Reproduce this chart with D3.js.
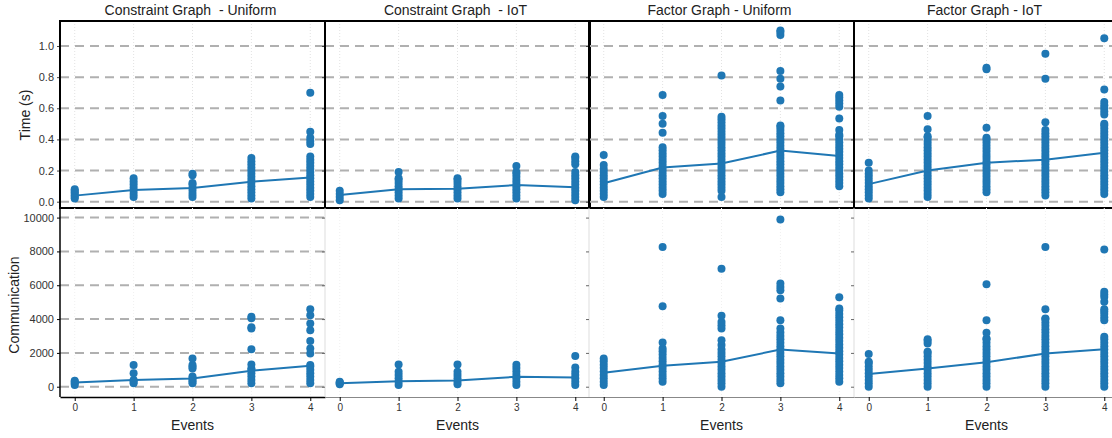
<!DOCTYPE html>
<html>
<head>
<meta charset="utf-8">
<script src="https://cdn.jsdelivr.net/npm/d3@7"></script>
<style>
  html, body { margin: 0; padding: 0; background: #fff; }
  svg { display: block; font-family: "Liberation Sans", Arial, sans-serif; }
</style>
</head>
<body>
<script>
// ---------------- DATA ----------------
const events = [0, 1, 2, 3, 4];
const facetTitles = ["Constraint Graph  - Uniform", "Constraint Graph  - IoT", "Factor Graph - Uniform", "Factor Graph - IoT"];
const timeTicks = [0.0, 0.2, 0.4, 0.6, 0.8, 1.0];
const commTicks = [0, 2000, 4000, 6000, 8000, 10000];

// Time (s) per event count, one array per facet
const timeCGUniform = [
  [0.02,0.03,0.04,0.05,0.06,0.07,0.08],
  [0.03,0.05,0.07,0.09,0.11,0.13,0.15],
  [0.03,0.05,0.07,0.09,0.11,0.12,0.17,0.18],
  [0.02,0.04,0.06,0.08,0.10,0.12,0.14,0.16,0.18,0.20,0.22,0.24,0.26,0.28],
  [0.03,0.05,0.07,0.09,0.11,0.13,0.15,0.17,0.19,0.21,0.23,0.25,0.27,0.29,0.37,0.39,0.41,0.45,0.70]
];
const timeCGIoT = [
  [0.01,0.03,0.05,0.07],
  [0.02,0.04,0.06,0.08,0.10,0.12,0.14,0.15,0.19],
  [0.02,0.04,0.06,0.08,0.10,0.12,0.14,0.15],
  [0.02,0.04,0.06,0.08,0.10,0.12,0.14,0.16,0.18,0.19,0.23],
  [0.01,0.03,0.05,0.07,0.09,0.11,0.13,0.15,0.17,0.19,0.24,0.26,0.28,0.29]
];
const timeFGUniform = [
  [0.03,0.05,0.07,0.09,0.11,0.13,0.15,0.17,0.19,0.21,0.235,0.30],
  [0.05,0.07,0.09,0.11,0.13,0.15,0.17,0.19,0.21,0.23,0.25,0.27,0.29,0.31,0.33,0.35,0.443,0.50,0.55,0.685],
  [0.03,0.07,0.09,0.11,0.13,0.15,0.17,0.19,0.21,0.23,0.25,0.27,0.29,0.31,0.33,0.35,0.37,0.39,0.41,0.43,0.45,0.47,0.49,0.51,0.53,0.546,0.81],
  [0.06,0.08,0.10,0.12,0.14,0.16,0.18,0.20,0.22,0.24,0.26,0.28,0.30,0.32,0.34,0.36,0.38,0.40,0.42,0.44,0.46,0.48,0.49,0.65,0.74,0.79,0.84,1.07,1.09,1.10],
  [0.10,0.12,0.14,0.16,0.18,0.20,0.22,0.24,0.26,0.28,0.30,0.32,0.34,0.36,0.38,0.40,0.42,0.43,0.46,0.535,0.61,0.63,0.65,0.67,0.685]
];
const timeFGIoT = [
  [0.02,0.04,0.06,0.08,0.10,0.12,0.14,0.16,0.18,0.20,0.25],
  [0.03,0.05,0.07,0.09,0.11,0.13,0.15,0.17,0.19,0.21,0.23,0.25,0.27,0.29,0.31,0.33,0.35,0.37,0.39,0.41,0.42,0.465,0.55],
  [0.06,0.08,0.10,0.12,0.14,0.16,0.18,0.20,0.22,0.24,0.26,0.28,0.30,0.32,0.34,0.36,0.38,0.40,0.41,0.475,0.85,0.86],
  [0.04,0.06,0.08,0.10,0.12,0.14,0.16,0.18,0.20,0.22,0.24,0.26,0.28,0.30,0.32,0.34,0.36,0.38,0.40,0.42,0.44,0.46,0.51,0.79,0.95],
  [0.05,0.07,0.09,0.11,0.13,0.15,0.17,0.19,0.21,0.23,0.25,0.27,0.29,0.31,0.33,0.35,0.37,0.39,0.41,0.43,0.45,0.47,0.49,0.50,0.56,0.58,0.60,0.62,0.64,0.72,1.05]
];
const timeMeanCGUniform = [0.039, 0.075, 0.088, 0.128, 0.156];
const timeMeanCGIoT     = [0.043, 0.080, 0.083, 0.107, 0.092];
const timeMeanFGUniform = [0.118, 0.220, 0.246, 0.328, 0.293];
const timeMeanFGIoT     = [0.113, 0.200, 0.250, 0.270, 0.315];

// Communication per event count, one array per facet
const commCGUniform = [
  [100,200,300,350],
  [200,300,400,790,1280],
  [200,300,400,500,600,1080,1180,1280,1670],
  [200,400,600,800,1000,1080,1320,2220,3440,3520,4050,4130],
  [200,400,600,800,1000,1200,1280,1970,2260,2700,3340,3740,4230,4580]
];
const commCGIoT = [
  [150,200,250,300],
  [100,300,500,700,885,1320],
  [150,300,500,700,885,1320],
  [100,300,500,700,900,1100,1300],
  [100,300,500,700,885,1140,1810]
];
const commFGUniform = [
  [100,300,500,700,900,1100,1300,1500,1670],
  [300,500,700,900,1100,1300,1500,1700,1900,2100,2260,2620,4760,8260],
  [0,200,400,600,800,1000,1200,1400,1600,1800,2000,2200,2460,2750,3440,3640,3830,4190,6980],
  [200,400,600,800,1000,1200,1400,1600,1800,2000,2200,2400,2600,2800,3000,3200,3440,3930,5210,5700,5900,6100,9890],
  [300,500,700,900,1100,1300,1500,1700,1900,2100,2300,2500,2700,2900,3100,3300,3500,3700,3900,4100,4300,4500,4620,5290]
];
const commFGIoT = [
  [0,200,400,600,800,1000,1200,1400,1480,1930],
  [0,200,400,600,800,1000,1200,1400,1600,1800,2000,2070,2560,2700,2800],
  [0,200,400,600,800,1000,1200,1400,1600,1800,2000,2200,2400,2600,2800,2850,3190,3930,6060],
  [0,200,400,600,800,1000,1200,1400,1600,1800,2000,2200,2400,2600,2800,3000,3200,3400,3600,3800,4000,4030,4580,8260],
  [0,200,400,600,800,1000,1200,1400,1600,1800,2000,2200,2400,2600,2800,2950,3930,4100,4300,4450,4580,5020,5300,5450,5610,8120]
];
const commMeanCGUniform = [255, 390, 490, 944, 1240];
const commMeanCGIoT     = [200, 330, 370, 590, 550];
const commMeanFGUniform = [826, 1240, 1475, 2200, 1970];
const commMeanFGIoT     = [750, 1080, 1440, 1970, 2220];

const timeSeries = [timeCGUniform, timeCGIoT, timeFGUniform, timeFGIoT];
const timeMeans  = [timeMeanCGUniform, timeMeanCGIoT, timeMeanFGUniform, timeMeanFGIoT];
const commSeries = [commCGUniform, commCGIoT, commFGUniform, commFGIoT];
const commMeans  = [commMeanCGUniform, commMeanCGIoT, commMeanFGUniform, commMeanFGIoT];

// ---------------- LAYOUT ----------------
const W = 1112, H = 438;
const colLeft = [60, 325, 589, 854];
const colW = 265;
const topY0 = 21, topY1 = 208, botY0 = 208, botY1 = 397;
const blue = "#1f77b4";

const svg = d3.select("body").append("svg").attr("width", W).attr("height", H);

const yTop = d3.scaleLinear().domain([-0.0405, 1.1606]).range([topY1, topY0]);
const yBot = d3.scaleLinear().domain([-608, 10567]).range([botY1, botY0]);

function flatten(series) {
  const out = [];
  series.forEach((vals, i) => vals.forEach(v => out.push({ e: events[i], v })));
  return out;
}

facetTitles.forEach((title, c) => {
  const L = colLeft[c];
  const x = d3.scaleLinear().domain([-0.25, 4.25]).range([L, L + colW]);
  const g = svg.append("g");

  // title
  g.append("text").attr("x", L + colW / 2 - 2).attr("y", 15)
    .attr("text-anchor", "middle").attr("font-size", 14).attr("fill", "#222")
    .style("white-space", "pre").text(title);

  // ----- TOP PANEL (Time) -----
  const top = g.append("g");
  top.selectAll("line.vg").data(events).join("line")
    .attr("x1", d => x(d)).attr("x2", d => x(d))
    .attr("y1", topY0).attr("y2", topY1)
    .attr("stroke", "#e2e2e2").attr("stroke-width", 1).attr("stroke-dasharray", "1,2");
  top.selectAll("line.hg").data(timeTicks).join("line")
    .attr("x1", L).attr("x2", L + colW)
    .attr("y1", d => yTop(d)).attr("y2", d => yTop(d))
    .attr("stroke", "#b0b0b0").attr("stroke-width", 2).attr("stroke-dasharray", "9,6");
  top.selectAll("circle").data(flatten(timeSeries[c])).join("circle")
    .attr("cx", d => x(d.e)).attr("cy", d => yTop(d.v)).attr("r", 4).attr("fill", blue);
  top.append("path")
    .datum(events.map((e, i) => ({ e, v: timeMeans[c][i] })))
    .attr("fill", "none").attr("stroke", blue).attr("stroke-width", 2)
    .attr("d", d3.line().x(d => x(d.e)).y(d => yTop(d.v)));

  const axT = top.append("g").attr("transform", `translate(${L},0)`)
    .call(d3.axisLeft(yTop).tickValues(timeTicks).tickSize(3).tickPadding(3)
      .tickFormat(c === 0 ? d3.format(".1f") : () => ""));
  axT.select(".domain").remove();
  axT.selectAll(".tick line").attr("stroke", "#444");
  axT.selectAll(".tick text").attr("font-size", 11).attr("fill", "#333")
    .attr("font-family", "'Liberation Sans', Arial, sans-serif");

  top.append("rect").attr("x", L).attr("y", topY0).attr("width", colW).attr("height", topY1 - topY0)
    .attr("fill", "none").attr("stroke", "#000").attr("stroke-width", 2);

  // ----- BOTTOM PANEL (Communication) -----
  const bot = g.append("g");
  bot.selectAll("line.vg").data(events).join("line")
    .attr("x1", d => x(d)).attr("x2", d => x(d))
    .attr("y1", botY0).attr("y2", botY1)
    .attr("stroke", "#f0f0f0").attr("stroke-width", 1).attr("stroke-dasharray", "1,2");
  if (c === 0) {
    bot.selectAll("line.hg").data(commTicks).join("line")
      .attr("x1", L).attr("x2", L + colW)
      .attr("y1", d => yBot(d)).attr("y2", d => yBot(d))
      .attr("stroke", "#b0b0b0").attr("stroke-width", 2).attr("stroke-dasharray", "9,6");
  } else {
    bot.append("line").attr("x1", L).attr("x2", L).attr("y1", botY0).attr("y2", botY1)
      .attr("stroke", "#dddddd").attr("stroke-width", 1);
  }
  bot.selectAll("circle").data(flatten(commSeries[c])).join("circle")
    .attr("cx", d => x(d.e)).attr("cy", d => yBot(d.v)).attr("r", 4).attr("fill", blue);
  bot.append("path")
    .datum(events.map((e, i) => ({ e, v: commMeans[c][i] })))
    .attr("fill", "none").attr("stroke", blue).attr("stroke-width", 2)
    .attr("d", d3.line().x(d => x(d.e)).y(d => yBot(d.v)));

  const axB = bot.append("g").attr("transform", `translate(${L},0)`)
    .call(d3.axisLeft(yBot).tickValues(commTicks).tickSize(3).tickPadding(3)
      .tickFormat(c === 0 ? d3.format("d") : () => ""));
  axB.select(".domain").remove();
  axB.selectAll(".tick line").attr("stroke", c === 0 ? "#000" : "#666");
  axB.selectAll(".tick text").attr("font-size", 11).attr("fill", "#333")
    .attr("font-family", "'Liberation Sans', Arial, sans-serif");
  if (c === 0) {
    bot.append("line").attr("x1", L).attr("x2", L).attr("y1", botY0).attr("y2", botY1)
      .attr("stroke", "#000").attr("stroke-width", 1.5);
  }

  const axX = bot.append("g").attr("transform", `translate(0,${botY1})`)
    .call(d3.axisBottom(x).tickValues(events).tickSize(4).tickSizeOuter(0).tickPadding(3).tickFormat(d3.format("d")));
  axX.select(".domain").attr("stroke", c === 0 ? "#000" : "#888").attr("stroke-width", c === 0 ? 1.5 : 1);
  axX.selectAll(".tick line").attr("stroke", "#000");
  axX.selectAll(".tick text").attr("font-size", 10).attr("fill", "#333")
    .attr("font-family", "'Liberation Sans', Arial, sans-serif");

  // x title
  g.append("text").attr("x", L + colW / 2).attr("y", 430)
    .attr("text-anchor", "middle").attr("font-size", 14).attr("fill", "#222").text("Events");
});

// Y titles
svg.append("text").attr("transform", "translate(30,115) rotate(-90)")
  .attr("text-anchor", "middle").attr("font-size", 14).attr("fill", "#222").text("Time (s)");
svg.append("text").attr("transform", "translate(19,305) rotate(-90)")
  .attr("text-anchor", "middle").attr("font-size", 14).attr("fill", "#222").text("Communication");
</script>
</body>
</html>
